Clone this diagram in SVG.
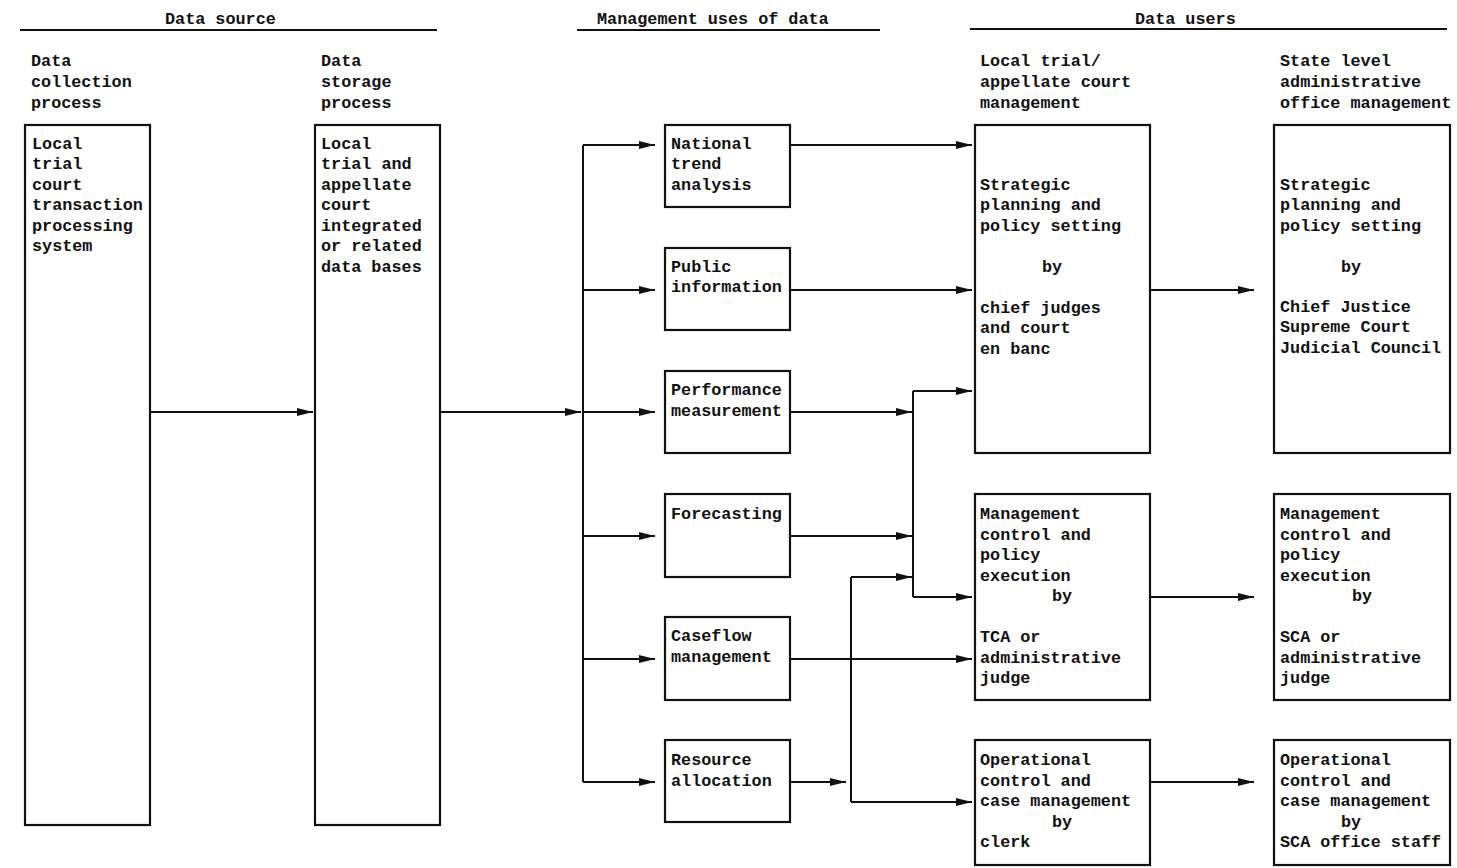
<svg xmlns="http://www.w3.org/2000/svg" width="1457" height="868" viewBox="0 0 1457 868">
<defs>
<style>
text{font-family:"Liberation Mono","DejaVu Sans Mono",monospace;font-size:16.8px;font-weight:bold;fill:#111}
.box{fill:none;stroke:#111;stroke-width:2.2}
.ln{fill:none;stroke:#111;stroke-width:2}
.hd{fill:none;stroke:#111;stroke-width:1.8}
</style>
<marker id="ah" viewBox="0 0 16 8" refX="16" refY="4" markerWidth="16" markerHeight="8" markerUnits="userSpaceOnUse" orient="auto">
<path d="M0,0 L16,4 L0,8 Z" fill="#111"/>
</marker>
</defs>
<rect width="1457" height="868" fill="#fff"/>

<g id="headers">
<text x="165" y="24">Data source</text>
<line class="hd" x1="20" y1="30" x2="437" y2="30"/>
<text x="597" y="24">Management uses of data</text>
<line class="hd" x1="577" y1="30" x2="880" y2="30"/>
<text x="1135" y="24">Data users</text>
<line class="hd" x1="970" y1="29" x2="1447" y2="29"/>
<text x="31" y="66">Data</text>
<text x="31" y="87">collection</text>
<text x="31" y="108">process</text>
<text x="321" y="66">Data</text>
<text x="321" y="87">storage</text>
<text x="321" y="108">process</text>
<text x="980" y="66">Local trial/</text>
<text x="980" y="87">appellate court</text>
<text x="980" y="108">management</text>
<text x="1280" y="66">State level</text>
<text x="1280" y="87">administrative</text>
<text x="1280" y="108">office management</text>
</g>

<g id="collection">
<rect class="box" x="25" y="125" width="125" height="700"/>
<text x="32" y="149">Local</text>
<text x="32" y="169">trial</text>
<text x="32" y="190">court</text>
<text x="32" y="210">transaction</text>
<text x="32" y="231">processing</text>
<text x="32" y="251">system</text>
</g>

<g id="storage">
<rect class="box" x="315" y="125" width="125" height="700"/>
<text x="321" y="149">Local</text>
<text x="321" y="169">trial and</text>
<text x="321" y="190">appellate</text>
<text x="321" y="210">court</text>
<text x="321" y="231">integrated</text>
<text x="321" y="251">or related</text>
<text x="321" y="272">data bases</text>
</g>

<g id="national">
<rect class="box" x="665" y="125" width="125" height="82"/>
<text x="671" y="149">National</text>
<text x="671" y="169">trend</text>
<text x="671" y="190">analysis</text>
</g>
<g id="public">
<rect class="box" x="665" y="248" width="125" height="82"/>
<text x="671" y="272">Public</text>
<text x="671" y="292">information</text>
</g>
<g id="performance">
<rect class="box" x="665" y="371" width="125" height="82"/>
<text x="671" y="395">Performance</text>
<text x="671" y="416">measurement</text>
</g>
<g id="forecasting">
<rect class="box" x="665" y="494" width="125" height="83"/>
<text x="671" y="519">Forecasting</text>
</g>
<g id="caseflow">
<rect class="box" x="665" y="617" width="125" height="83"/>
<text x="671" y="641">Caseflow</text>
<text x="671" y="662">management</text>
</g>
<g id="resource">
<rect class="box" x="665" y="740" width="125" height="82"/>
<text x="671" y="765">Resource</text>
<text x="671" y="786">allocation</text>
</g>

<g id="local-strategic">
<rect class="box" x="975" y="125" width="175" height="328"/>
<text x="980" y="190">Strategic</text>
<text x="980" y="210">planning and</text>
<text x="980" y="231">policy setting</text>
<text x="1042" y="272">by</text>
<text x="980" y="313">chief judges</text>
<text x="980" y="333">and court</text>
<text x="980" y="354">en banc</text>
</g>
<g id="local-management">
<rect class="box" x="975" y="494" width="175" height="206"/>
<text x="980" y="519">Management</text>
<text x="980" y="540">control and</text>
<text x="980" y="560">policy</text>
<text x="980" y="581">execution</text>
<text x="1052" y="601">by</text>
<text x="980" y="642">TCA or</text>
<text x="980" y="663">administrative</text>
<text x="980" y="683">judge</text>
</g>
<g id="local-operational">
<rect class="box" x="975" y="740" width="175" height="125"/>
<text x="980" y="765">Operational</text>
<text x="980" y="786">control and</text>
<text x="980" y="806">case management</text>
<text x="1052" y="827">by</text>
<text x="980" y="847">clerk</text>
</g>

<g id="state-strategic">
<rect class="box" x="1274" y="125" width="176" height="328"/>
<text x="1280" y="190">Strategic</text>
<text x="1280" y="210">planning and</text>
<text x="1280" y="231">policy setting</text>
<text x="1341" y="272">by</text>
<text x="1280" y="312">Chief Justice</text>
<text x="1280" y="332">Supreme Court</text>
<text x="1280" y="353">Judicial Council</text>
</g>
<g id="state-management">
<rect class="box" x="1274" y="494" width="176" height="206"/>
<text x="1280" y="519">Management</text>
<text x="1280" y="540">control and</text>
<text x="1280" y="560">policy</text>
<text x="1280" y="581">execution</text>
<text x="1352" y="601">by</text>
<text x="1280" y="642">SCA or</text>
<text x="1280" y="663">administrative</text>
<text x="1280" y="683">judge</text>
</g>
<g id="state-operational">
<rect class="box" x="1274" y="740" width="176" height="125"/>
<text x="1280" y="765">Operational</text>
<text x="1280" y="786">control and</text>
<text x="1280" y="806">case management</text>
<text x="1341" y="827">by</text>
<text x="1280" y="847">SCA office staff</text>
</g>

<g id="connectors">
<line class="ln" x1="150" y1="412" x2="313" y2="412" marker-end="url(#ah)"/>
<line class="ln" x1="440" y1="412" x2="581" y2="412" marker-end="url(#ah)"/>
<line class="ln" x1="583" y1="145" x2="583" y2="782"/>
<line class="ln" x1="583" y1="145" x2="655" y2="145" marker-end="url(#ah)"/>
<line class="ln" x1="583" y1="290" x2="655" y2="290" marker-end="url(#ah)"/>
<line class="ln" x1="583" y1="412" x2="655" y2="412" marker-end="url(#ah)"/>
<line class="ln" x1="583" y1="536" x2="655" y2="536" marker-end="url(#ah)"/>
<line class="ln" x1="583" y1="659" x2="655" y2="659" marker-end="url(#ah)"/>
<line class="ln" x1="583" y1="782" x2="655" y2="782" marker-end="url(#ah)"/>
<line class="ln" x1="790" y1="145" x2="972" y2="145" marker-end="url(#ah)"/>
<line class="ln" x1="790" y1="290" x2="972" y2="290" marker-end="url(#ah)"/>
<line class="ln" x1="790" y1="412" x2="912" y2="412" marker-end="url(#ah)"/>
<line class="ln" x1="790" y1="536" x2="912" y2="536" marker-end="url(#ah)"/>
<line class="ln" x1="790" y1="659" x2="972" y2="659" marker-end="url(#ah)"/>
<line class="ln" x1="790" y1="782" x2="846" y2="782" marker-end="url(#ah)"/>
<line class="ln" x1="913" y1="391" x2="913" y2="597"/>
<line class="ln" x1="913" y1="391" x2="972" y2="391" marker-end="url(#ah)"/>
<line class="ln" x1="913" y1="597" x2="972" y2="597" marker-end="url(#ah)"/>
<line class="ln" x1="851" y1="577" x2="851" y2="802"/>
<line class="ln" x1="851" y1="577" x2="912" y2="577" marker-end="url(#ah)"/>
<line class="ln" x1="851" y1="802" x2="972" y2="802" marker-end="url(#ah)"/>
<line class="ln" x1="1150" y1="290" x2="1254" y2="290" marker-end="url(#ah)"/>
<line class="ln" x1="1150" y1="597" x2="1254" y2="597" marker-end="url(#ah)"/>
<line class="ln" x1="1150" y1="782" x2="1254" y2="782" marker-end="url(#ah)"/>
</g>
</svg>
